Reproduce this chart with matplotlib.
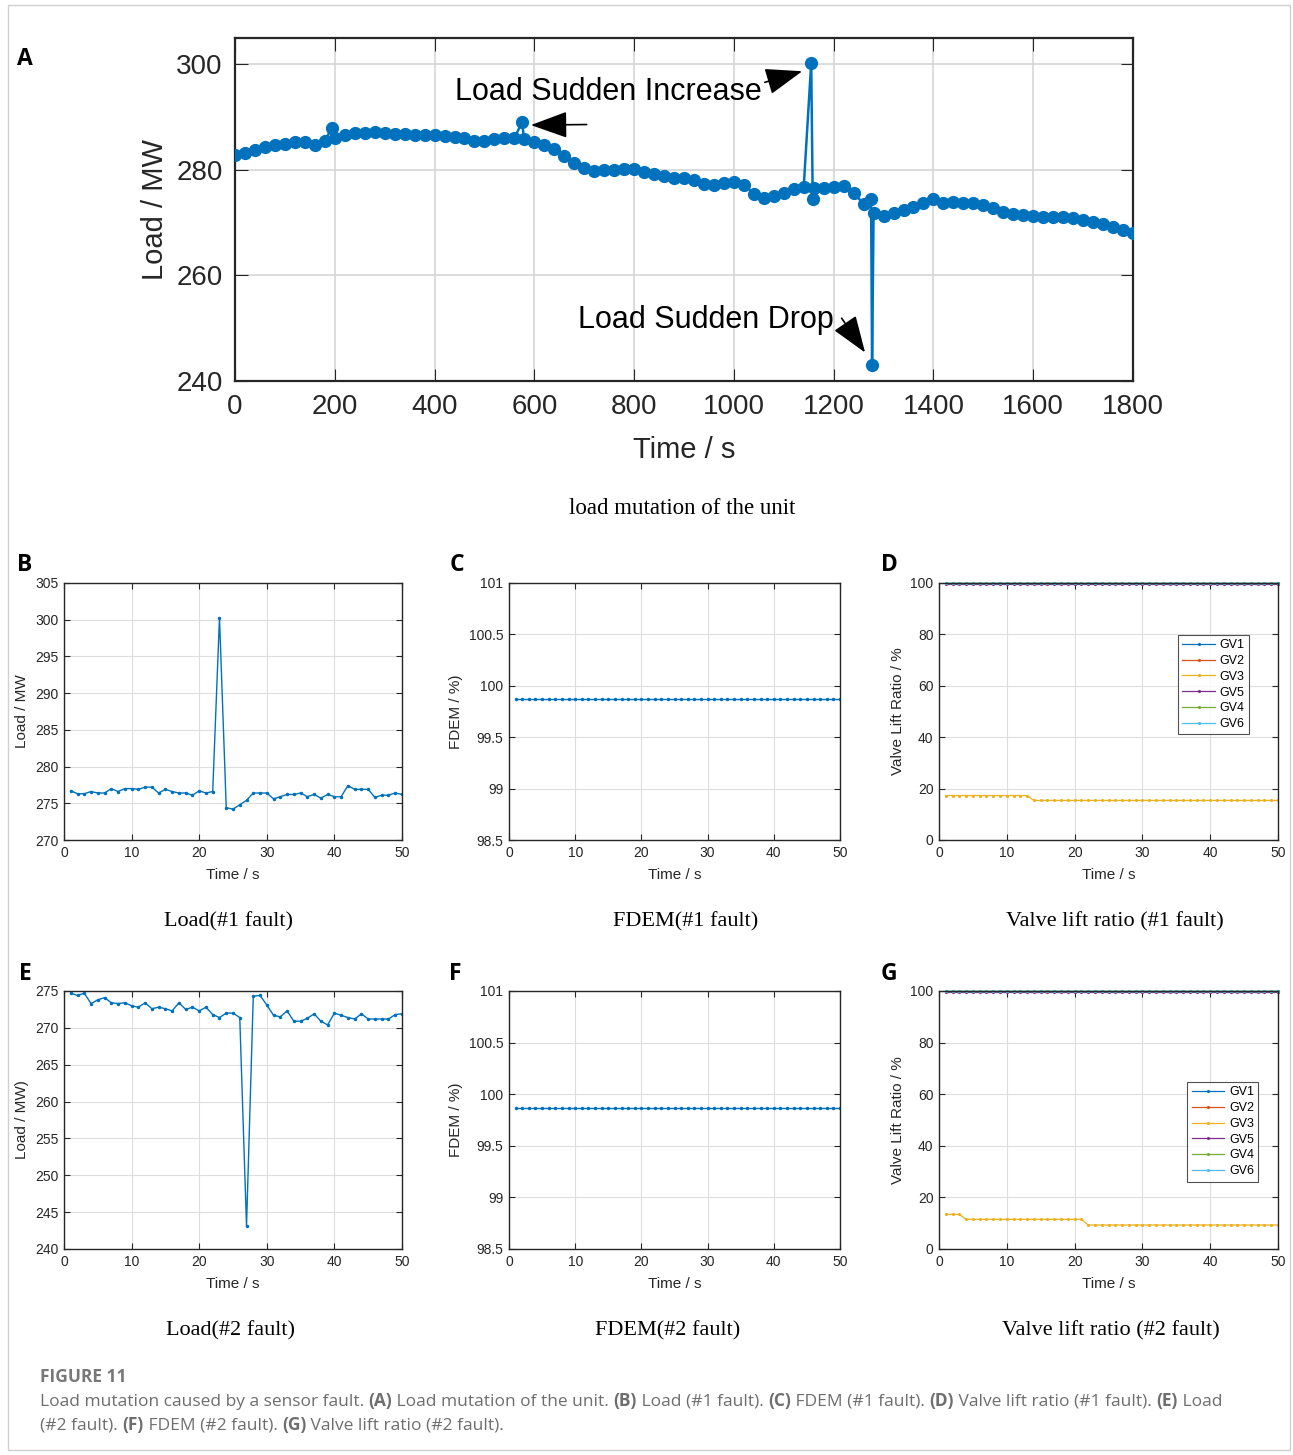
import matplotlib
matplotlib.use("Agg")
import matplotlib.pyplot as plt
from matplotlib.patches import Rectangle, ArrowStyle

# ── Data ───────────────────────────────────────────────────────────────
# (A) load of the unit over 1800 s, with three faulty samples
a_time = [0, 20, 40, 60, 80, 100, 120, 140, 160, 180, 194, 200, 220, 240, 260, 280,
          300, 320, 340, 360, 380, 400, 420, 440, 460, 480, 500, 520, 540, 560, 575,
          580, 600, 620, 640, 660, 680, 700, 720, 740, 760, 780, 800, 820, 840, 860,
          880, 900, 920, 940, 960, 980, 1000, 1020, 1040, 1060, 1080, 1100, 1120,
          1140, 1155, 1158, 1160, 1180, 1200, 1220, 1240, 1260, 1275, 1277, 1280,
          1300, 1320, 1340, 1360, 1380, 1400, 1420, 1440, 1460, 1480, 1500, 1520,
          1540, 1560, 1580, 1600, 1620, 1640, 1660, 1680, 1700, 1720, 1740, 1760,
          1780, 1800]
a_load = [282.8, 283.3, 283.8, 284.3, 284.7, 285.0, 285.3, 285.2, 284.8, 285.4, 288.0,
          286.0, 286.6, 287.0, 287.0, 287.1, 287.0, 286.9, 286.8, 286.7, 286.6, 286.6,
          286.5, 286.3, 286.0, 285.4, 285.4, 285.8, 286.1, 286.0, 289.0, 285.8, 285.3,
          284.8, 284.0, 282.6, 281.3, 280.3, 279.8, 279.9, 280.0, 280.2, 280.1, 279.6,
          279.3, 278.8, 278.5, 278.4, 278.0, 277.4, 277.2, 277.5, 277.7, 277.2, 275.5,
          274.6, 275.0, 275.6, 276.3, 276.8, 300.3, 274.5, 276.6, 276.6, 276.8, 277.0,
          275.6, 273.6, 274.4, 243.1, 271.8, 271.2, 271.8, 272.5, 273.0, 273.8, 274.5,
          273.8, 273.9, 273.8, 273.7, 273.4, 272.8, 272.1, 271.6, 271.4, 271.2, 271.1,
          271.1, 271.0, 270.8, 270.6, 270.2, 269.7, 269.2, 268.7, 268.1]

steps = list(range(1, 51))

# (B) load, #1 fault
load_f1 = [276.7, 276.3, 276.3, 276.6, 276.4, 276.4, 277.0, 276.6, 277.0, 277.0,
           276.9, 277.2, 277.2, 276.4, 276.9, 276.6, 276.4, 276.4, 276.1, 276.7,
           276.4, 276.6, 300.3, 274.4, 274.2, 274.8, 275.4, 276.4, 276.4, 276.4,
           275.6, 275.9, 276.2, 276.2, 276.4, 275.9, 276.2, 275.7, 276.2, 275.9,
           275.9, 277.4, 276.9, 276.9, 276.9, 275.8, 276.1, 276.1, 276.4, 276.2]
# (E) load, #2 fault
load_f2 = [274.7, 274.4, 274.7, 273.3, 273.8, 274.1, 273.4, 273.3, 273.4, 273.0,
           272.8, 273.4, 272.6, 272.8, 272.6, 272.3, 273.4, 272.5, 272.8, 272.3,
           272.8, 271.8, 271.4, 272.0, 272.0, 271.4, 243.1, 274.3, 274.4, 273.1,
           271.7, 271.5, 272.3, 270.9, 270.9, 271.3, 271.9, 270.9, 270.4, 272.0,
           271.7, 271.4, 271.2, 271.9, 271.2, 271.2, 271.2, 271.2, 271.8, 271.9]

# (C), (F) FDEM stays flat
fdem_f1 = [99.87] * 50
fdem_f2 = [99.87] * 50

# (D), (G) valve lift ratio
gv_names = ["GV1", "GV2", "GV3", "GV5", "GV4", "GV6"]
gv_f1 = {
    "GV1": [100.0] * 50,
    "GV2": [100.0] * 50,
    "GV3": [17.3] * 13 + [15.4] * 37,
    "GV5": [99.5] * 50,
    "GV4": [100.0] * 50,
    "GV6": [100.0] * 50,
}
gv_f2 = {
    "GV1": [100.0] * 50,
    "GV2": [100.0] * 50,
    "GV3": [13.4] * 3 + [11.5] * 18 + [9.3] * 29,
    "GV5": [99.5] * 50,
    "GV4": [100.0] * 50,
    "GV6": [100.0] * 50,
}

# ── Style ──────────────────────────────────────────────────────────────
BLUE = "#0072BD"
GV_COLORS = {"GV1": "#0072BD", "GV2": "#D95319", "GV3": "#EDB120",
             "GV5": "#7E2F8E", "GV4": "#77AC30", "GV6": "#4DBEEE"}
SANS = ["Liberation Sans", "DejaVu Sans"]
SERIF = ["Liberation Serif", "DejaVu Serif"]
plt.rcParams["font.family"] = SANS

W, H = 1293, 1455
fig = plt.figure(figsize=(W / 100, H / 100), dpi=100)


def px_axes(left, top, right, bottom):
    return fig.add_axes([left / W, 1 - bottom / H, (right - left) / W, (bottom - top) / H])


def matlab_style(ax, fs, ticklen, pad):
    ax.tick_params(direction="in", top=True, right=True, labelsize=fs,
                   colors="#262626", length=ticklen, width=0.8, pad=pad)
    ax.grid(True, color="#dedede", lw=0.8)
    ax.set_axisbelow(True)
    for s in ax.spines.values():
        s.set_color("#262626")
        s.set_linewidth(1.0)


# ── (A) load mutation of the unit ─────────────────────────────────────
ax = px_axes(235, 38, 1133, 381)
ax.plot(a_time, a_load, "-o", color=BLUE, lw=1.8, ms=8.5, mec=BLUE, mfc=BLUE, zorder=3)
ax.set_xlim(0, 1800)
ax.set_ylim(240, 305)
ax.set_xticks(range(0, 1801, 200))
ax.set_yticks([240, 260, 280, 300])
matlab_style(ax, 20, 9, 9)
for s in ax.spines.values():
    s.set_linewidth(1.6)
ax.grid(True, color="#d6d6d6", lw=1.2)
ax.set_xlabel("Time / s", fontsize=21, color="#262626")
ax.set_ylabel("Load / MW", fontsize=21, color="#262626")
ax.xaxis.set_label_coords(0.5, -0.16)
ax.yaxis.set_label_coords(-0.073, 0.5)

head = ArrowStyle("-|>", head_length=1.05, head_width=0.38)
arrow_kw = dict(arrowstyle=head, mutation_scale=22, color="k", lw=1.2,
                shrinkA=0, shrinkB=0)
ax.text(441, 294.8, "Load Sudden Increase", fontsize=22, va="center", ha="left")
ax.annotate("", xy=(1137, 298.7), xytext=(1062, 296.6), arrowprops=arrow_kw)
ax.annotate("", xy=(593, 288.5), xytext=(705, 288.6), arrowprops=arrow_kw)
ax.text(687, 251.5, "Load Sudden Drop", fontsize=22, va="center", ha="left")
ax.annotate("", xy=(1263, 245.4), xytext=(1216, 251.9), arrowprops=arrow_kw)

fig.text(682 / W, 1 - 508 / H, "load mutation of the unit", family=SERIF,
         fontsize=16.5, ha="center", va="center")


# ── small panels ──────────────────────────────────────────────────────
def small_panel(box, y, ylim, yticks, ylabel, ylab_x, ytick_fmt=None):
    ax = px_axes(*box)
    ax.plot(steps, y, ".-", color=BLUE, lw=1.0, ms=3)
    ax.set_xlim(0, 50)
    ax.set_ylim(*ylim)
    ax.set_xticks(range(0, 51, 10))
    ax.set_yticks(yticks)
    if ytick_fmt:
        ax.set_yticklabels(ytick_fmt)
    matlab_style(ax, 10, 4, 4)
    ax.set_xlabel("Time / s", fontsize=11, color="#262626")
    ax.set_ylabel(ylabel, fontsize=11, color="#262626")
    ax.xaxis.set_label_coords(0.5, -0.11)
    ax.yaxis.set_label_coords(ylab_x, 0.5)
    return ax


def valve_panel(box, data, legend_anchor):
    ax = px_axes(*box)
    for name in gv_names:
        vals = data[name]
        ax.plot(steps, vals, ".-", color=GV_COLORS[name], lw=0.9, ms=2.5,
                label=name, clip_on=(name == "GV3"))
    ax.set_xlim(0, 50)
    ax.set_ylim(0, 100)
    ax.set_xticks(range(0, 51, 10))
    ax.set_yticks(range(0, 101, 20))
    matlab_style(ax, 10, 4, 4)
    ax.set_xlabel("Time / s", fontsize=11, color="#262626")
    ax.set_ylabel("Valve Lift Ratio / %", fontsize=11, color="#262626")
    ax.xaxis.set_label_coords(0.5, -0.11)
    ax.yaxis.set_label_coords(-0.10, 0.5)
    leg = ax.legend(loc="upper left", bbox_to_anchor=legend_anchor, borderaxespad=0,
                    fontsize=9, frameon=True, fancybox=False, handlelength=2.6,
                    labelspacing=0.3, borderpad=0.35, handletextpad=0.4)
    leg.get_frame().set_edgecolor("#262626")
    leg.get_frame().set_linewidth(0.8)
    return ax


fdem_ticks = [98.5, 99, 99.5, 100, 100.5, 101]
fdem_labels = ["98.5", "99", "99.5", "100", "100.5", "101"]

small_panel((64, 583, 402, 840), load_f1, (270, 305), range(270, 306, 5),
            "Load / MW", -0.104)
small_panel((509, 583, 840, 840), fdem_f1, (98.5, 101), fdem_ticks,
            "FDEM / %)", -0.139, fdem_labels)
valve_panel((939, 583, 1278, 840), gv_f1, (0.705, 0.798))

small_panel((64, 991, 402, 1249), load_f2, (240, 275), range(240, 276, 5),
            "Load / MW)", -0.104)
small_panel((509, 991, 840, 1249), fdem_f2, (98.5, 101), fdem_ticks,
            "FDEM / %)", -0.139, fdem_labels)
valve_panel((939, 991, 1278, 1249), gv_f2, (0.732, 0.647))

subtitles = [(228, 922, "Load(#1 fault)"), (686, 922, "FDEM(#1 fault)"),
             (1115, 922, "Valve lift ratio (#1 fault)"),
             (231, 1331, "Load(#2 fault)"), (668, 1331, "FDEM(#2 fault)"),
             (1111, 1331, "Valve lift ratio (#2 fault)")]
for x, y, s in subtitles:
    fig.text(x / W, 1 - y / H, s, family=SERIF, fontsize=16, ha="center", va="center")

letters = [(25, 59, "A"), (25, 565, "B"), (457, 565, "C"), (889, 565, "D"),
           (25, 974, "E"), (455, 974, "F"), (889, 974, "G")]
for x, y, s in letters:
    fig.text(x / W, 1 - y / H, s, fontsize=16.5, fontweight="bold", ha="center",
             va="center", family=["Open Sans", "DejaVu Sans"])

# outer frame
fig.add_artist(Rectangle((8 / W, 1 - 1450 / H), 1282 / W, 1445 / H,
                         transform=fig.transFigure, fill=False,
                         edgecolor="#d0d0d0", lw=1.0))

# ── caption ───────────────────────────────────────────────────────────
cap = fig.add_axes([0, 0, 1, 1])
cap.set_axis_off()
CAP_FONT = ["Open Sans", "DejaVu Sans"]
CAP_COL = "#6e6e6e"
fig.text(40 / W, 1 - 1377 / H, "FIGURE 11", family=CAP_FONT, fontsize=12.5,
         color="#777777", fontweight="bold", va="center")


def caption_line(x, y, parts):
    prev = cap.text(x / W, 1 - y / H, parts[0][0], family=CAP_FONT, fontsize=12.5,
                    color=CAP_COL, va="baseline",
                    fontweight="bold" if parts[0][1] else "normal")
    for txt, bold in parts[1:]:
        prev = cap.annotate(txt, xy=(1, 0), xycoords=prev, xytext=(0, 0),
                            textcoords="offset points", ha="left", va="bottom",
                            family=CAP_FONT, fontsize=12.5, color=CAP_COL,
                            fontweight="bold" if bold else "normal")


caption_line(40, 1406, [("Load mutation caused by a sensor fault. ", False), ("(A)", True),
                        (" Load mutation of the unit. ", False), ("(B)", True),
                        (" Load (#1 fault). ", False), ("(C)", True),
                        (" FDEM (#1 fault). ", False), ("(D)", True),
                        (" Valve lift ratio (#1 fault). ", False), ("(E)", True),
                        (" Load", False)])
caption_line(40, 1430, [("(#2 fault). ", False), ("(F)", True),
                        (" FDEM (#2 fault). ", False), ("(G)", True),
                        (" Valve lift ratio (#2 fault).", False)])

fig.savefig("out.png", dpi=100)
